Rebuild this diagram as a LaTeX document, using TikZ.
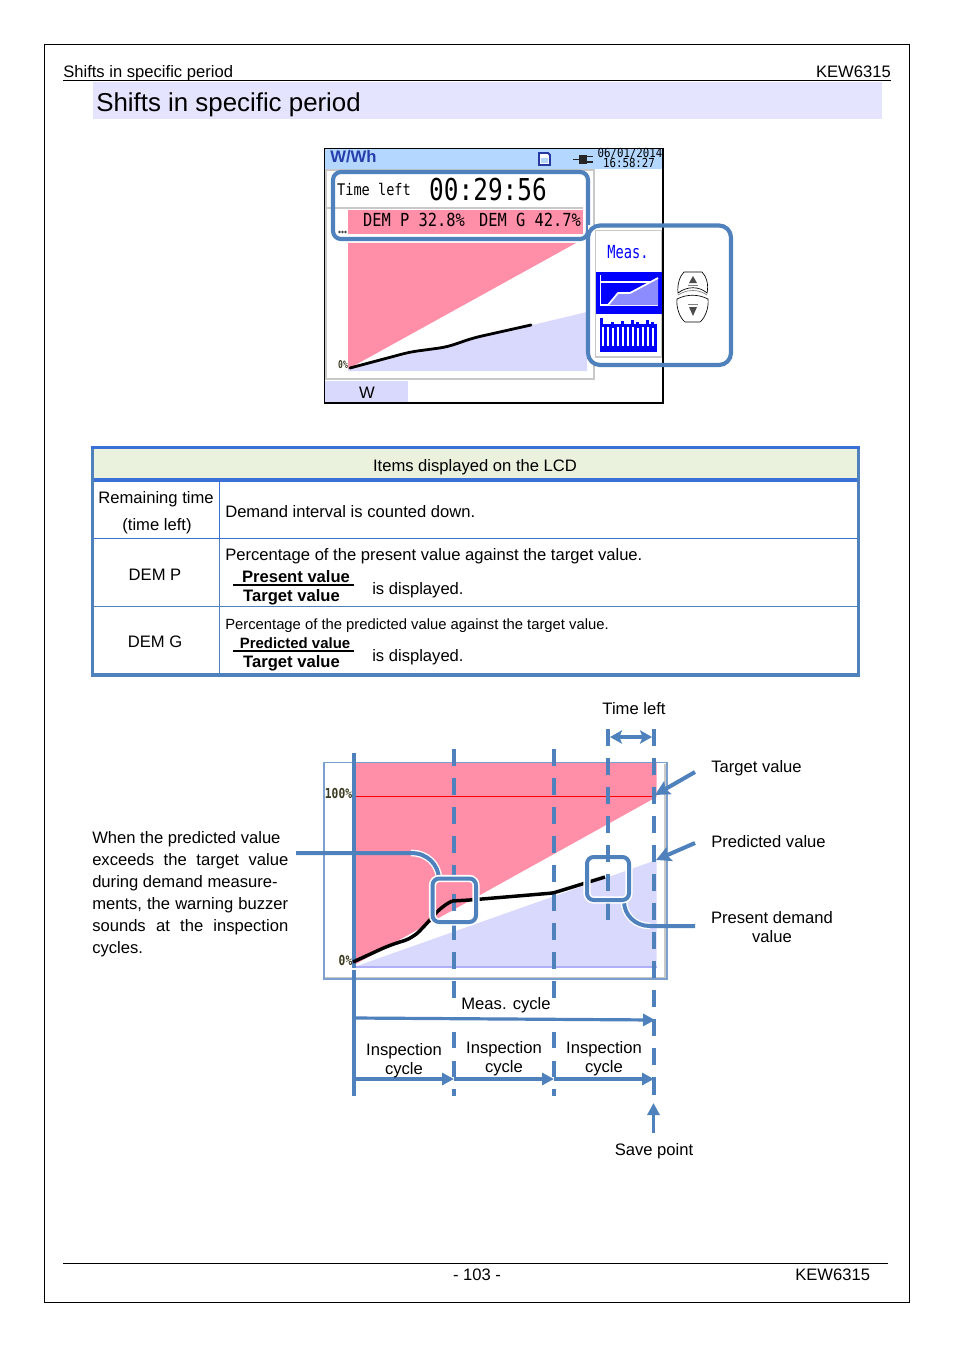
\documentclass[tikz,border=0pt]{standalone}
\usepackage{fontspec}
\setmainfont{Liberation Sans}
\newfontfamily\lcdfont{DejaVu Sans Mono}
\usetikzlibrary{arrows.meta}
\definecolor{bl}{HTML}{4F81BD}
\definecolor{tb}{HTML}{3B6FD8}
\definecolor{pk}{HTML}{FF8FA8}
\definecolor{lv}{HTML}{D9D9FD}
\definecolor{hd}{HTML}{B3D7FF}
\definecolor{gr}{HTML}{C8C8C8}
\definecolor{lcdblue}{HTML}{0000FF}
\definecolor{thead}{HTML}{EAF1DD}
\definecolor{lab}{HTML}{3A3A20}
\tikzset{
 txt/.style={inner sep=0pt,font=\fontsize{12.45}{14}\selectfont},
 tl/.style={txt,anchor=base west},
 tc/.style={txt,anchor=base},
 tr/.style={txt,anchor=base east},
 bd/.style={txt,anchor=base,font=\fontsize{12.45}{14}\selectfont\bfseries},
 lcd/.style={inner sep=0pt,anchor=base,transform shape},
 rbox/.style={draw=bl,line width=3.1pt,rounded corners=6pt},
 cbox/.style={draw=bl,line width=3pt,rounded corners=5pt},
 hbox/.style={draw=white,line width=5.4pt,rounded corners=5pt},
 vsolid/.style={draw=bl,line width=2.6pt},
 vdashb/.style={draw=bl,line width=2.6pt,dash pattern=on 12.4pt off 9.35pt},
 vdashc/.style={draw=bl,line width=2.6pt,dash pattern=on 12pt off 9.4pt},
 callout/.style={draw=bl,line width=3pt},
 chalo/.style={draw=white,line width=5pt},
 arr/.style={draw=bl,line width=2.4pt,-{Triangle[length=9pt,width=9pt]}},
 arrs/.style={draw=bl,line width=3pt,-{Stealth[length=11pt,width=11pt,inset=2pt]}},
 arrb/.style={draw=bl,line width=2.4pt,{Stealth[length=9pt,width=10pt,inset=2pt]}-{Stealth[length=9pt,width=10pt,inset=2pt]}},
}
\begin{document}
\begin{tikzpicture}[x=.75pt,y=-.75pt]
\useasboundingbox (0,0) rectangle (954,1348);
\fill[white] (0,0) rectangle (954,1348);
% page
\draw[line width=.7pt] (44.5,44.5) rectangle (909.5,1302.5);
\draw[line width=.6pt] (63,80.5) -- (891,80.5);
\draw[line width=.6pt] (63,1263.5) -- (888,1263.5);
\fill[lv!70!white] (93,82) rectangle (882,119);
\node[tl] (hdl) at (63,78) {Shifts in specific period};
\node[tr] (hdr) at (891,78) {KEW6315};
\node[tl,font=\fontsize{19.4}{24}\selectfont] (title) at (96,111.5) {Shifts in specific period};
\node[tc] (pg) at (477,1280) {- 103 -};
\node[tl] (ftr) at (795,1280) {KEW6315};
% LCD
\fill[hd] (325,149) rectangle (663,169);
\draw[gr,line width=.8pt] (326,170) rectangle (594,379);
\fill[lv] (325,381) rectangle (408,402);
\draw[line width=.8pt] (324.5,148.5) rectangle (663,403);
\fill[pk] (348,210) rectangle (583,234);
\fill[pk] (348,369) -- (348,243) -- (576,243) -- cycle;
\fill[lv] (348,369) -- (587,312) -- (587,371) -- (348,371) -- cycle;
\draw[gr,line width=1.8pt] (326,208) -- (583,208);
\draw[line width=2.1pt,line cap=round,rounded corners=6pt] (350,368) -- (410,352) -- (447,347) -- (473,338) -- (531,325);
\node[inner sep=0pt,anchor=base west,font=\fontsize{12.5}{14}\selectfont\bfseries,text=bl!60!blue!80!black] (wwh) at (330,162.5) {W/Wh};
\node[inner sep=0pt,anchor=base,font=\fontsize{12.45}{14}\selectfont] (wlab) at (367,398) {W};
% SD and plug icons
\draw[fill=white,draw=bl!60!blue!75!black,line width=1.4pt] (539,153) -- (548,153) -- (550,155) -- (550,165) -- (539,165) -- cycle;
\fill[hd] (541,158) rectangle (548,163);
\fill[black!85] (579,155) rectangle (587,164);
\draw[line width=1.3pt,black!85] (573,159.5) -- (580,159.5);
\draw[line width=1.1pt,black!85] (586,156.5) -- (593,156.5) (586,162) -- (593,162);
\node[lcd,xscale=.865,font=\lcdfont\fontsize{9.3}{10}\selectfont] (dt1) at (630,158) {06/01/2014};
\node[lcd,xscale=.865,font=\lcdfont\fontsize{9.3}{10}\selectfont] (dt2) at (629,168) {16:58:27};
\node[lcd,xscale=.85,font=\lcdfont\fontsize{12}{14}\selectfont] (tleft) at (374,196) {Time left};
\node[lcd,xscale=.81,font=\lcdfont\fontsize{22.6}{26}\selectfont] (clock) at (488,201) {00:29:56};
\node[lcd,xscale=.855,font=\lcdfont\fontsize{13.5}{14}\selectfont] (dp) at (414,227) {DEM P 32.8\%};
\node[lcd,xscale=.855,font=\lcdfont\fontsize{13.5}{14}\selectfont] (dg) at (530,227) {DEM G 42.7\%};
\node[lcd,xscale=.75,font=\lcdfont\bfseries\fontsize{8}{9}\selectfont,text=lab] (z1) at (343,368) {0\%};
\fill[black!75] (339.5,232) circle (1pt) (342.5,232) circle (1pt) (345.5,232) circle (1pt);
\draw[rbox] (333,172) rectangle (588,239);
% soft-key panel
\fill[white] (588,225) rectangle (731,365);
\draw[gr,line width=1.2pt] (663,230.5) -- (595.5,230.5) -- (595.5,357) -- (663,357);
\draw[gr,line width=1.2pt] (661.5,230.5) -- (661.5,357);
\draw[line width=.9pt] (663,225) -- (663,365);
\node[lcd,xscale=.76,text=lcdblue,font=\lcdfont\fontsize{13.5}{14}\selectfont] (meas) at (628,258) {Meas.};
\fill[lcdblue] (596,272) rectangle (662,314);
\draw[white,line width=.9pt] (600.5,275) -- (600.5,305) -- (658,305) (600.5,282) -- (658,282);
\fill[white!55!lcdblue] (608,305) -- (618,293) -- (630,293) -- (658,278) -- (658,305) -- cycle;
\draw[white,line width=1.3pt] (608,305) -- (618,293) -- (630,293) -- (658,278);
\fill[lcdblue] (600,324) rectangle (657,352);
\foreach \xa in {601,606,...,651}{
  \fill[white] (\xa+1,327) rectangle ++(1.8,19);
}
\foreach \xa/\ya in {600/318,611/322,621/321,631/320,636/322,646/320,651/322}{
  \fill[lcdblue] (\xa,\ya) rectangle ++(3,6);
}
\draw[rbox,rounded corners=9pt] (588,225.5) rectangle (731,365);
% buttons
\draw[line width=.5pt] (678,293) .. controls (677,284) and (680,276) .. (684,272) -- (702,272) .. controls (706,276) and (709,284) .. (707,293) .. controls (699,286) and (687,286) .. cycle;
\draw[line width=.5pt] (677,299) .. controls (687,294) and (698,294) .. (708,299) .. controls (709,308) and (705,318) .. (700,322) -- (685,322) .. controls (680,318) and (676,308) .. cycle;
\draw[gray,line width=.5pt] (678,295) .. controls (687,289) and (699,289) .. (707,295);
\fill[black!70] (693,276) -- (697,283) -- (689,283) -- cycle;
\fill[black!70] (693,316) -- (697,307) -- (689,307) -- cycle;
\draw[gray,line width=.7pt] (688,285.5) -- (698,285.5) (688,304.5) -- (698,304.5);
% table
\fill[thead] (93,449) rectangle (858,480);
\draw[tb,line width=.8pt] (219.5,480) -- (219.5,538);
\draw[bl,line width=.8pt] (219.5,538) -- (219.5,675);
\draw[tb,line width=1.4pt] (93,538.5) -- (858,538.5);
\draw[bl,line width=.8pt] (93,606.5) -- (858,606.5);
\draw[tb,line width=2.8pt] (92,480) -- (859,480);
\draw[bl,line width=2.8pt] (92.5,447) -- (92.5,675) -- (858.5,675) -- (858.5,447);
\draw[tb,line width=2.8pt] (91,447.5) -- (860,447.5);
\node[tc] (th) at (475,471.5) {Items displayed on the LCD};
\node[tc] (r1a) at (156,503) {Remaining time};
\node[tc] (r1b) at (157,530) {(time left)};
\node[tl] (r1c) at (225,517.5) {Demand interval is counted down.};
\node[tc] (r2a) at (155,580) {DEM P};
\node[tl] (r2b) at (225,560) {Percentage of the present value against the target value.};
\node[bd] (r2c) at (296,582) {Present value};
\node[bd] (r2d) at (291.5,601) {Target value};
\draw[line width=1pt] (233,585) -- (354,585);
\node[tl] (r2e) at (372,594) {is displayed.};
\node[tc] (r3a) at (155,647) {DEM G};
\node[tl,font=\fontsize{11.1}{13}\selectfont] (r3b) at (225,629) {Percentage of the predicted value against the target value.};
\node[bd,font=\fontsize{11.2}{13}\selectfont\bfseries] (r3c) at (295,648) {Predicted value};
\node[bd] (r3d) at (291.5,667) {Target value};
\draw[line width=1pt] (233,651) -- (354,651);
\node[tl] (r3e) at (372,661) {is displayed.};
% lower chart
\fill[pk] (354,763) -- (656.5,763) -- (656.5,797) -- (354,965) -- cycle;
\fill[lv] (354,967) -- (656.5,860) -- (656.5,967) -- cycle;
\draw[lv!80!blue,line width=.8pt] (354,967) -- (656.5,967);
\draw[red,line width=1pt] (354,796.5) -- (654,796.5);
\draw[gr,line width=.9pt] (665,764) -- (665,977.5) -- (325,977.5);
\draw[bl!75!white,line width=1.4pt] (324,762.5) rectangle (667,979);
\node[lcd,xscale=.82,font=\lcdfont\bfseries\fontsize{10.3}{11}\selectfont,text=lab] (l100) at (338.5,798) {100\%};
\node[lcd,xscale=.82,font=\lcdfont\bfseries\fontsize{10.3}{11}\selectfont,text=lab] (l0) at (345.5,965) {0\%};
% guides
\coordinate (g1t) at (354,753); \coordinate (g1b) at (354,968);
\coordinate (g1c) at (354,970); \coordinate (g1d) at (354,1096);
\coordinate (g2t) at (454,749); \coordinate (g2b) at (454,998);
\coordinate (g2c) at (454,1032); \coordinate (g2d) at (454,1095.5);
\coordinate (g3t) at (554,749); \coordinate (g3b) at (554,998);
\coordinate (g3c) at (554,1032); \coordinate (g3d) at (554,1095.5);
\coordinate (g4t) at (608,729); \coordinate (g4b) at (608,920);
\coordinate (g5t) at (654,729); \coordinate (g5b) at (654,1095);
\coordinate (g5c) at (654,1078);
\draw[vsolid] (g1t) -- (g1b);
\draw[vsolid] (g1c) -- (g1d);
\draw[vdashb] (g2t) -- (g2b);
\draw[vdashc] (g2c) -- (g2d);
\draw[vdashb] (g3t) -- (g3b);
\draw[vdashc] (g3c) -- (g3d);
\draw[vdashb] (g4t) -- (g4b);
\draw[vdashb] (g5t) -- (g5b);
\draw[vsolid] (g5c) -- (g5b);
% measured curve
\draw[line width=2.6pt,rounded corners=7pt] (353,962) -- (390,945) -- (413,938) -- (430,920) -- (441,907) -- (452,901);
\draw[line width=2.6pt,rounded corners=2pt] (452,901) -- (470,900) -- (553,893) -- (605,877);
% callouts
\coordinate (c1a) at (296,853); \coordinate (c1b) at (411,853); \coordinate (c1c) at (439,878);
\coordinate (c2a) at (695,926); \coordinate (c2b) at (650,926); \coordinate (c2c) at (624,901);
\draw[chalo] (c1b) .. controls (428,853) and (438,865) .. (c1c);
\draw[chalo] (c2b) .. controls (635,926) and (624,915) .. (c2c);
\draw[callout] (c1a) -- (c1b) .. controls (428,853) and (438,865) .. (c1c);
\draw[callout] (c2a) -- (c2b) .. controls (635,926) and (624,915) .. (c2c);
\draw[hbox] (432.5,878.5) rectangle (476,922);
\draw[cbox] (432.5,878.5) rectangle (476,922);
\draw[hbox] (587,857) rectangle (629,900);
\draw[cbox] (587,857) rectangle (629,900);
\coordinate (d4a) at (608,850); \coordinate (d4b) at (608,862);
\draw[vsolid] (d4a) -- (d4b);
% arrows
\coordinate (ta) at (695,772); \coordinate (tb1) at (655,795);
\coordinate (pa) at (695,843); \coordinate (pb) at (656,860);
\draw[arrs] (ta) -- (tb1);
\draw[arrs] (pa) -- (pb);
\coordinate (tla) at (610,737); \coordinate (tlb) at (652,737);
\draw[arrb] (tla) -- (tlb);
\coordinate (ma) at (354,1018); \coordinate (mb) at (655,1020);
\draw[arr] (ma) -- (mb);
\coordinate (i0) at (354,1079); \coordinate (i1) at (454,1079);
\coordinate (i2) at (554,1079); \coordinate (i3) at (654,1079);
\draw[arr] (i0) -- (i1);
\draw[arr] (i1) -- (i2);
\draw[arr] (i2) -- (i3);
\coordinate (sa) at (653.5,1133); \coordinate (sb) at (653.5,1103);
\draw[arr] (sa) -- (sb);
% labels
\node[tc] (tl) at (634,714) {Time left};
\node[tl] (tv) at (711,772) {Target value};
\node[tl] (pv) at (711,847) {Predicted value};
\node[tc] (pd1) at (772,923) {Present demand};
\node[tc] (pd2) at (772,942) {value};
\node[tc] (mc) at (506,1009) {Meas. cycle};
\node[tc] (ia1) at (404,1055) {Inspection};
\node[tc] (ia2) at (404,1074) {cycle};
\node[tc] (ib1) at (504,1053) {Inspection};
\node[tc] (ib2) at (504,1072) {cycle};
\node[tc] (ic1) at (604,1053) {Inspection};
\node[tc] (ic2) at (604,1072) {cycle};
\node[tc] (sp) at (654,1155) {Save point};
\newcommand{\jl}[1]{\hbox to 147pt{#1}}
\node[tl] (n1) at (92,843) {When the predicted value};
\node[tl] (n2) at (92,865) {\jl{exceeds\hfill the\hfill target\hfill value}};
\node[tl] (n3) at (92,887) {during demand measure-};
\node[tl] (n4) at (92,909) {\jl{ments,\hfill the\hfill warning\hfill buzzer}};
\node[tl] (n5) at (92,931) {\jl{sounds\hfill at\hfill the\hfill inspection}};
\node[tl] (n6) at (92,953) {cycles.};
\end{tikzpicture}
\end{document}
